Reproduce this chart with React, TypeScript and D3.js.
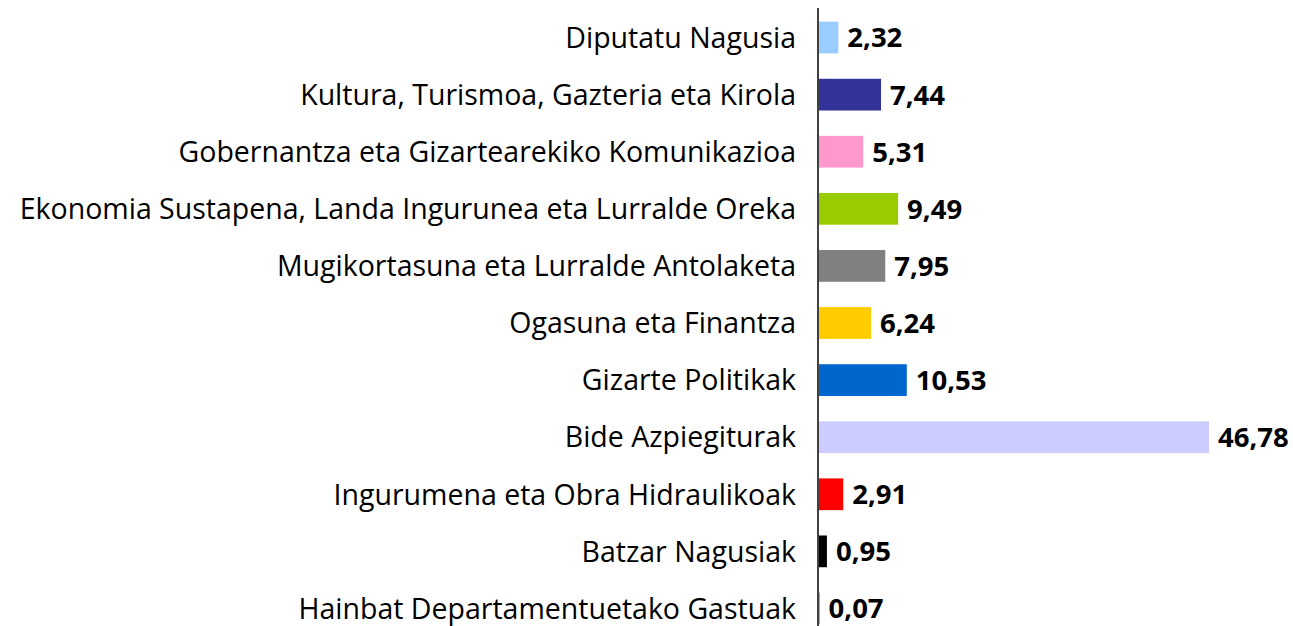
import React from "react";
import * as d3 from "d3";

const categories = [
  "Diputatu Nagusia",
  "Kultura, Turismoa, Gazteria eta Kirola",
  "Gobernantza eta Gizartearekiko Komunikazioa",
  "Ekonomia Sustapena, Landa Ingurunea eta Lurralde Oreka",
  "Mugikortasuna eta Lurralde Antolaketa",
  "Ogasuna eta Finantza",
  "Gizarte Politikak",
  "Bide Azpiegiturak",
  "Ingurumena eta Obra Hidraulikoak",
  "Batzar Nagusiak",
  "Hainbat Departamentuetako Gastuak",
];
const values = [2.32, 7.44, 5.31, 9.49, 7.95, 6.24, 10.53, 46.78, 2.91, 0.95, 0.07];
const colors = [
  "#99CCFF", "#333399", "#FF99CC", "#99CC00", "#808080", "#FFCC00",
  "#0066CC", "#CCCCFF", "#FF0000", "#000000", "#3366CC",
];

const W = 1293;
const H = 626;
const FONT = "'Open Sans', 'Noto Sans', sans-serif";

export default function App() {
  const x = d3.scaleLinear().domain([0, 46.78]).range([819, 1209]);
  const y = d3
    .scaleBand<string>()
    .domain(categories)
    .range([9, 637])
    .paddingInner(0.444)
    .paddingOuter(0.222);
  const fmt = d3.formatLocale({ decimal: ",", thousands: ".", grouping: [3], currency: ["", "€"] }).format(".2f");

  return (
    <svg width={W} height={H} style={{ position: "absolute", left: 0, top: 0, background: "#fff" }}>
      {categories.map((c, i) => {
        const yy = y(c)!;
        const bw = y.bandwidth();
        return (
          <g key={c}>
            <rect x={x(0)} y={yy} width={x(values[i]) - x(0)} height={bw} fill={colors[i]} />
            <text
              x={796}
              y={yy + bw / 2}
              dy="0.36em"
              textAnchor="end"
              fontFamily={FONT}
              fontSize={28.5}
              fill="#000"
            >
              {c}
            </text>
            <text
              x={x(values[i]) + 9}
              y={yy + bw / 2}
              dy="0.36em"
              fontFamily={FONT}
              fontSize={27.5}
              fontWeight="bold"
              fill="#000"
            >
              {fmt(values[i])}
            </text>
          </g>
        );
      })}
      <line x1={818} x2={818} y1={8} y2={626} stroke="#000" strokeWidth={1.5} />
    </svg>
  );
}
